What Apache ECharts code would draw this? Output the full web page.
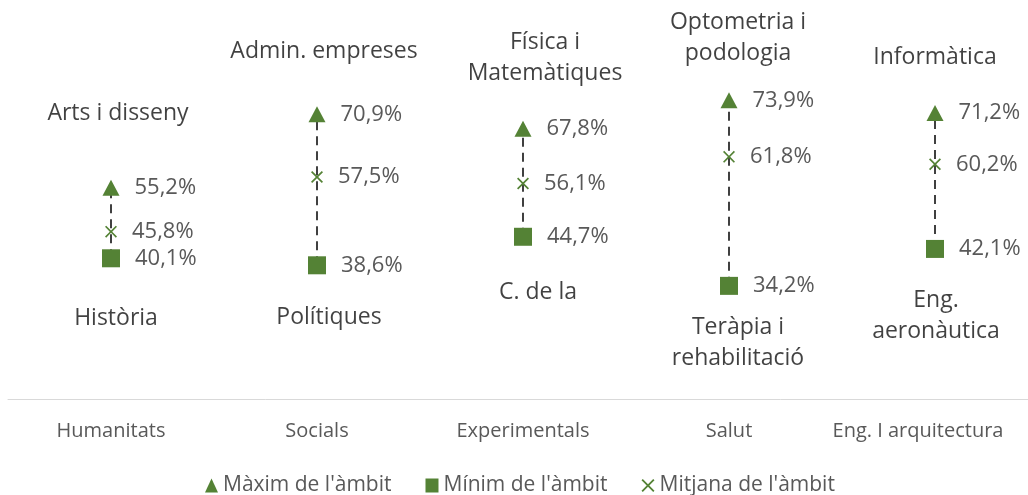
<!DOCTYPE html>
<html>
<head>
<meta charset="utf-8">
<script src="https://cdn.jsdelivr.net/npm/echarts@6/dist/echarts.min.js"></script>
<style>
html,body{margin:0;padding:0;background:#fff;overflow:hidden;}
#main{width:1038px;height:495px;}
</style>
</head>
<body>
<div id="main"></div>
<script>
var ambits = ['Humanitats', 'Socials', 'Experimentals', 'Salut', 'Eng. I arquitectura'];
var maxim = [55.2, 70.9, 67.8, 73.9, 71.2];
var minim = [40.1, 38.6, 44.7, 34.2, 42.1];
var mitjana = [45.8, 57.5, 56.1, 61.8, 60.2];
var estudisMax = ['Arts i disseny', 'Admin. empreses', 'Física i\nMatemàtiques', 'Optometria i\npodologia', 'Informàtica'];
var estudisMin = ['Història', 'Polítiques', 'C. de la', 'Teràpia i\nrehabilitació', 'Eng.\naeronàutica'];

// label placement (px offsets from the marker)
var offMax = [[7, -74], [7, -63], [22, -71], [9, -62], [0, -55]];
var offMin = [[5, 60], [12, 52], [15, 56], [9, 57], [1, 67]];

var green = '#548235';
var font = 'Open Sans';
var crossPath = 'path://M1,0 L5,4 L9,0 L10,1 L6,5 L10,9 L9,10 L5,6 L1,10 L0,9 L4,5 L0,1 Z';

function fmt(v) {
	return v.toFixed(1).replace('.', ',') + '%';
}
function valLabel() {
	return {
		show: true, position: 'right', distance: 15,
		color: '#595959', fontFamily: font, fontSize: 22,
		formatter: function (p) { return fmt(p.value); }
	};
}
function nameSeries(vals, names, offs) {
	return {
		type: 'scatter', symbolSize: 1, silent: true,
		itemStyle: {color: 'rgba(0,0,0,0)'},
		data: vals.map(function (v, i) {
			return {
				value: v,
				label: {offset: offs[i]}
			};
		}),
		label: {
			show: true, position: 'inside',
			color: '#111', fontFamily: font, fontSize: 23, lineHeight: 31,
			formatter: function (p) { return names[p.dataIndex]; }
		},
		z: 1
	};
}

echarts.init(document.getElementById('main')).setOption({
	animation: false,
	grid: {left: 8, right: 0, top: 25, bottom: 96},
	legend: {
		top: 470, left: 200,
		itemGap: 34, itemWidth: 13, itemHeight: 14,
		textStyle: {color: '#595959', fontFamily: font, fontSize: 21},
		data: ["Màxim de l'àmbit", "Mínim de l'àmbit", "Mitjana de l'àmbit"]
	},
	xAxis: {
		type: 'category',
		data: ambits.map(function (a, i) {
			return i === ambits.length - 1 ? {value: a, textStyle: {padding: [0, 34, 0, 0]}} : a;
		}),
		axisLine: {lineStyle: {color: '#d9d9d9', width: 1}},
		axisTick: {show: false},
		axisLabel: {color: '#595959', fontFamily: font, fontSize: 20, margin: 22, interval: 0}
	},
	yAxis: {
		type: 'value', min: 10, max: 90, show: false,
		splitLine: {show: false}
	},
	series: [
		{
			type: 'custom', silent: true, z: 1,
			data: ambits.map(function (a, i) { return [i, minim[i], maxim[i]]; }),
			renderItem: function (params, api) {
				var p1 = api.coord([api.value(0), api.value(1)]);
				var p2 = api.coord([api.value(0), api.value(2)]);
				return {
					type: 'line',
					shape: {x1: p1[0], y1: p1[1], x2: p2[0], y2: p2[1]},
					style: {stroke: '#404040', lineWidth: 2, lineDash: [9, 6]}
				};
			}
		},
		{
			name: "Màxim de l'àmbit", type: 'scatter', symbol: 'triangle', symbolSize: [17, 16],
			itemStyle: {color: green, opacity: 1}, data: maxim, label: valLabel(), z: 3
		},
		{
			name: "Mínim de l'àmbit", type: 'scatter', symbol: 'rect', symbolSize: 18,
			itemStyle: {color: green, opacity: 1}, data: minim, label: valLabel(), z: 3
		},
		{
			name: "Mitjana de l'àmbit", type: 'scatter', symbol: crossPath, symbolSize: 12,
			itemStyle: {color: green, opacity: 1}, data: mitjana, label: valLabel(), z: 3
		},
		nameSeries(maxim, estudisMax, offMax),
		nameSeries(minim, estudisMin, offMin)
	]
});
</script>
</body>
</html>
